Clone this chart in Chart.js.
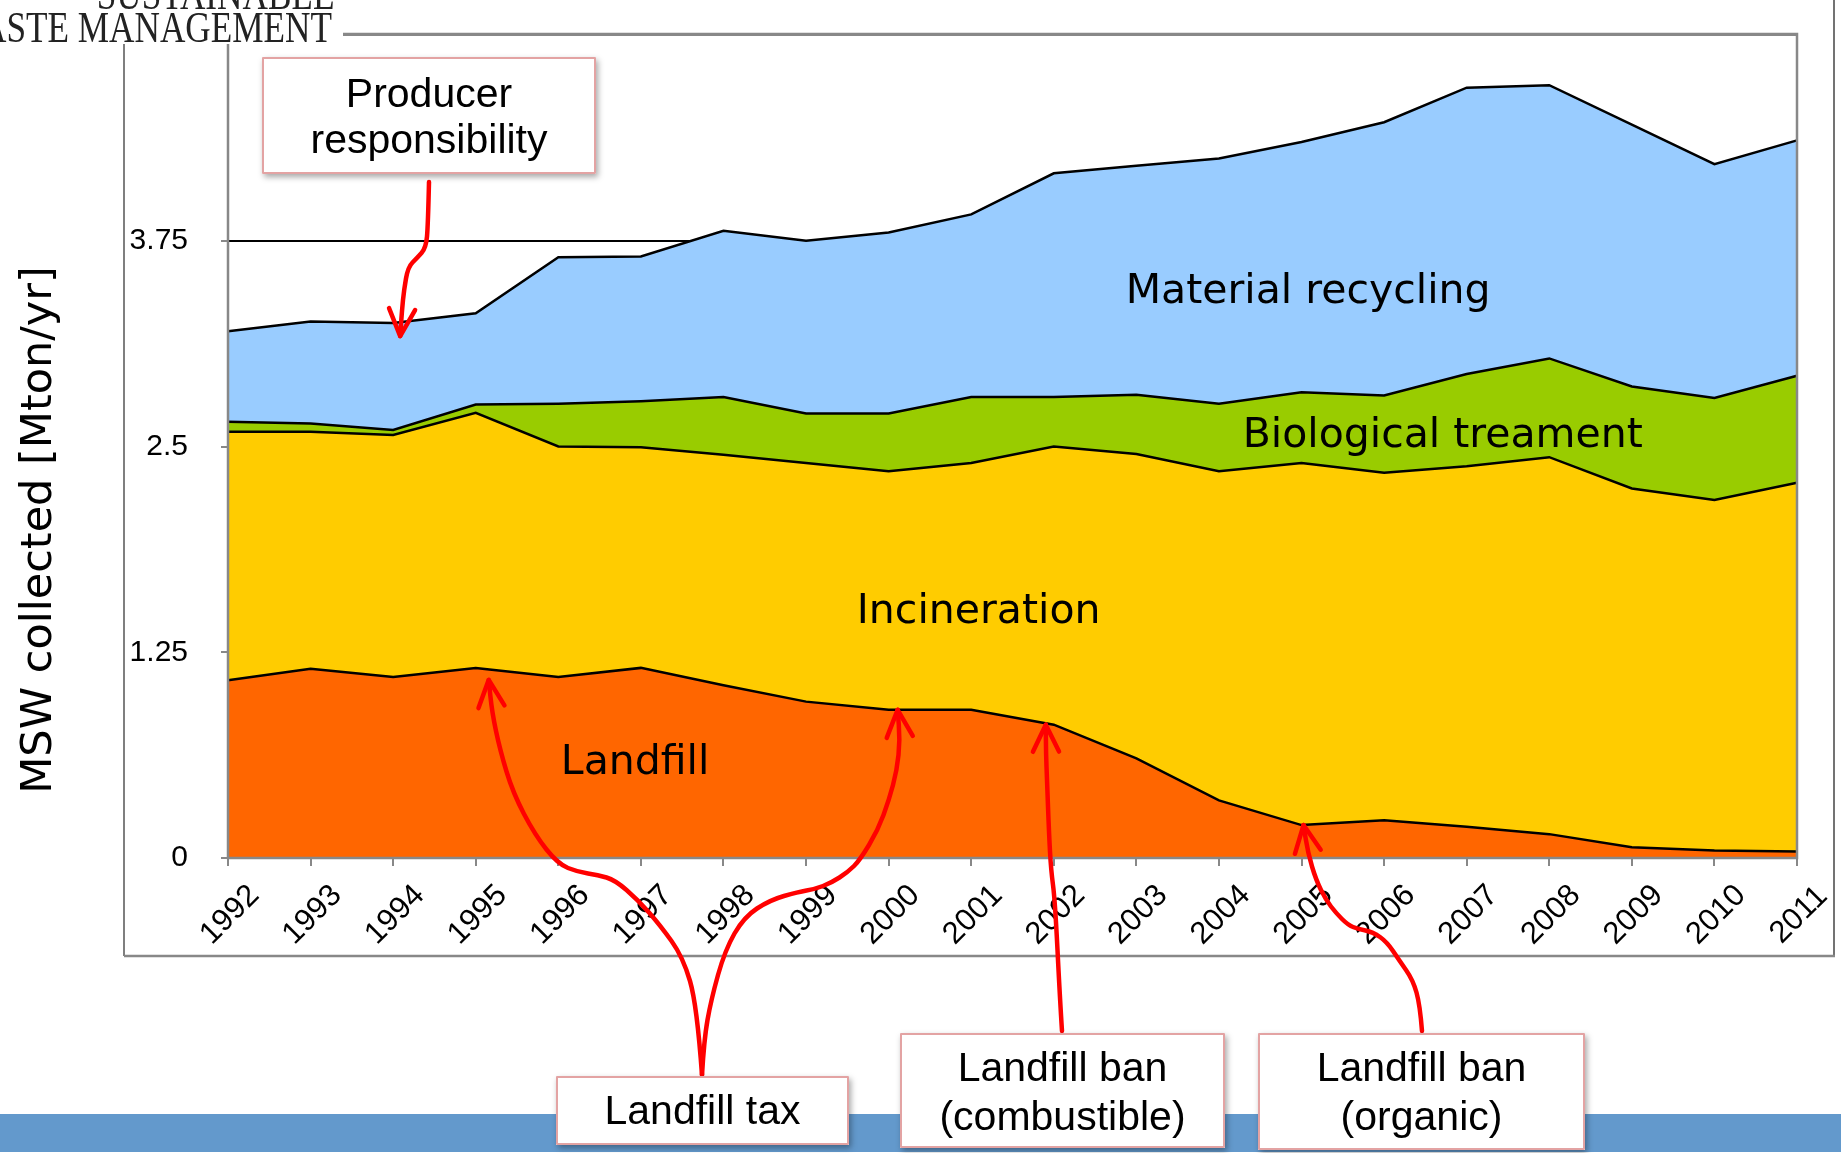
<!DOCTYPE html>
<html>
<head>
<meta charset="utf-8">
<script src="https://cdn.jsdelivr.net/npm/chart.js@4.4.0/dist/chart.umd.min.js"></script>
<style>
  html, body { margin: 0; padding: 0; background: #fff; }
  #wrap { width: 1841px; height: 1153px; position: relative; overflow: hidden; }
</style>
</head>
<body>
<div id="wrap"><canvas id="chart" width="1841" height="1153"></canvas></div>
<script>
// MSW collected per treatment route, Mton/yr
const years = ["1992", "1993", "1994", "1995", "1996", "1997", "1998", "1999", "2000", "2001",
               "2002", "2003", "2004", "2005", "2006", "2007", "2008", "2009", "2010", "2011"];
const landfill     = [1.08, 1.15, 1.10, 1.155, 1.10, 1.155, 1.05, 0.95, 0.90, 0.90, 0.81, 0.605, 0.35, 0.20, 0.23, 0.19, 0.145, 0.065, 0.045, 0.04];
const incineration = [1.51, 1.44, 1.47, 1.55, 1.40, 1.34, 1.40, 1.45, 1.45, 1.50, 1.69, 1.85, 2.00, 2.20, 2.11, 2.19, 2.29, 2.18, 2.13, 2.24];
const biological   = [0.06, 0.05, 0.03, 0.05, 0.26, 0.28, 0.35, 0.30, 0.35, 0.40, 0.30, 0.36, 0.41, 0.43, 0.47, 0.56, 0.60, 0.62, 0.62, 0.65];
const recycling    = [0.55, 0.62, 0.65, 0.555, 0.89, 0.88, 1.01, 1.05, 1.10, 1.11, 1.36, 1.39, 1.49, 1.52, 1.66, 1.74, 1.66, 1.59, 1.42, 1.43];
const seriesNames  = ["Landfill", "Incineration", "Biological treament", "Material recycling"];
const yTicks = [0, 1.25, 2.5, 3.75, 5];
const yTitle = "MSW collected [Mton/yr]";

const series = [landfill, incineration, biological, recycling];
const colors = ["#ff6600", "#ffcc00", "#99cc00", "#99ccff"];

// top of the stack for series s at year index i
function stackTop(s, i) {
    let t = 0;
    for (let k = 0; k <= s; k++) t += series[k][i];
    return t;
}

// where the in-area names sit (year index, value of the text baseline)
const nameSpots = [
    { i: 4.93, v: 0.51 },
    { i: 9.09, v: 1.43 },
    { i: 14.71, v: 2.50 },
    { i: 13.08, v: 3.37 },
];

const callouts = [
    { box: [262, 57, 334, 117], lines: ["Producer", "responsibility"], base: [107, 153] },
    { box: [556, 1076, 293, 69], lines: ["Landfill tax"], base: [1124] },
    { box: [900, 1033, 325, 115], lines: ["Landfill ban", "(combustible)"], base: [1081, 1130] },
    { box: [1258, 1033, 327, 117], lines: ["Landfill ban", "(organic)"], base: [1081, 1130] },
];

// arrows: path from the box, tip anchored on a stack top
const arrows = [
    { path: [[429, 182], [428, 225], [426, 248], [417, 258], [408, 267], [404, 290], [402, 310]], tip: { s: 3, i: 2, dx: 7, dy: 13 } },
    { path: [[702, 1075], [697, 1005], [683, 957], [660, 925], [638, 900], [615, 880], [598, 875], [578, 872], [558, 864], [535, 835], [513, 793], [500, 750], [492, 712]], tip: { s: 0, i: 3, dx: 13, dy: 12 } },
    { path: [[702, 1075], [704, 1040], [711, 1000], [725, 950], [744, 917], [770, 900], [798, 892], [815, 889], [831, 883], [848, 872], [860, 860], [878, 830], [889, 800], [897, 770], [900, 740]], tip: { s: 0, i: 8, dx: 9, dy: 0 } },
    { path: [[1062, 1031], [1060, 1000], [1055, 900], [1051, 870], [1049, 833], [1047, 780], [1046, 753]], tip: { s: 0, i: 10, dx: -8, dy: 0 } },
    { path: [[1422, 1031], [1420, 1005], [1413, 980], [1399, 960], [1387, 942], [1373, 932], [1358, 929], [1348, 925], [1336, 913], [1326, 900], [1316, 880], [1308, 853]], tip: { s: 0, i: 13, dx: 2, dy: 0 } },
];

function smoothLine(ctx, pts) {
    ctx.beginPath();
    ctx.moveTo(pts[0][0], pts[0][1]);
    for (let k = 1; k < pts.length - 1; k++) {
        const mx = (pts[k][0] + pts[k + 1][0]) / 2;
        const my = (pts[k][1] + pts[k + 1][1]) / 2;
        ctx.quadraticCurveTo(pts[k][0], pts[k][1], mx, my);
    }
    const last = pts[pts.length - 1];
    ctx.lineTo(last[0], last[1]);
    ctx.stroke();
}

function arrowHead(ctx, from, tip) {
    const a = Math.atan2(tip[1] - from[1], tip[0] - from[0]);
    const len = 30, sp = 0.45;
    ctx.beginPath();
    ctx.moveTo(tip[0] - len * Math.cos(a - sp), tip[1] - len * Math.sin(a - sp));
    ctx.lineTo(tip[0], tip[1]);
    ctx.lineTo(tip[0] - len * Math.cos(a + sp), tip[1] - len * Math.sin(a + sp));
    ctx.stroke();
}

const decor = {
    id: "decor",
    afterDatasetsDraw(chart) {
        const ctx = chart.ctx, a = chart.chartArea;
        ctx.save();
        ctx.strokeStyle = "#888";
        ctx.lineWidth = 2.5;
        ctx.strokeRect(a.left, a.top - 1, a.right - a.left, a.bottom - a.top + 1);
        ctx.restore();
    },
    afterDraw(chart) {
        const ctx = chart.ctx, x = chart.scales.x, y = chart.scales.y;
        ctx.save();

        // outer frame
        ctx.lineWidth = 1.5;
        ctx.strokeStyle = "#555";
        ctx.beginPath(); ctx.moveTo(124, 43); ctx.lineTo(124, 956); ctx.stroke();
        ctx.strokeStyle = "#444";
        ctx.beginPath(); ctx.moveTo(1834, 0); ctx.lineTo(1834, 956); ctx.stroke();
        ctx.strokeStyle = "#888";
        ctx.lineWidth = 2.5;
        ctx.beginPath(); ctx.moveTo(124, 956); ctx.lineTo(1835, 956); ctx.stroke();

        // rotated year labels
        ctx.fillStyle = "#000";
        ctx.font = "31px 'Liberation Sans', Arial, sans-serif";
        ctx.textAlign = "center";
        ctx.textBaseline = "middle";
        years.forEach((yr, i) => {
            ctx.save();
            ctx.translate(x.getPixelForValue(i) + 2, y.bottom + 57);
            ctx.rotate(-Math.PI / 4);
            ctx.fillText(yr, 0, 0);
            ctx.restore();
        });

        // y axis title
        ctx.save();
        ctx.translate(51, 530);
        ctx.rotate(-Math.PI / 2);
        ctx.font = "43px 'DejaVu Sans', Verdana, sans-serif";
        ctx.textBaseline = "alphabetic";
        ctx.fillText(yTitle, 0, 0);
        ctx.restore();

        // series names inside the areas
        ctx.font = "41px 'DejaVu Sans', Verdana, sans-serif";
        ctx.textBaseline = "alphabetic";
        seriesNames.forEach((name, s) => {
            const p = nameSpots[s];
            ctx.fillText(name, x.getPixelForValue(p.i), y.getPixelForValue(p.v));
        });

        // bottom band
        ctx.fillStyle = "#6399cc";
        ctx.fillRect(0, 1114, 1841, 38);

        // red arrows
        ctx.strokeStyle = "#ff0000";
        ctx.lineWidth = 4.5;
        ctx.lineCap = "round";
        ctx.lineJoin = "round";
        arrows.forEach(ar => {
            const t = ar.tip;
            const tip = [x.getPixelForValue(t.i) + t.dx, y.getPixelForValue(stackTop(t.s, t.i)) + t.dy];
            const pts = ar.path.concat([tip]);
            smoothLine(ctx, pts);
            arrowHead(ctx, pts[pts.length - 2], tip);
        });

        // callout boxes
        callouts.forEach(c => {
            const [bx, by, bw, bh] = c.box;
            ctx.save();
            ctx.shadowColor = "rgba(0,0,0,0.35)";
            ctx.shadowBlur = 6;
            ctx.shadowOffsetX = 2;
            ctx.shadowOffsetY = 3;
            ctx.fillStyle = "#fff";
            ctx.fillRect(bx, by, bw, bh);
            ctx.restore();
            ctx.strokeStyle = "#e3a3a3";
            ctx.lineWidth = 2;
            ctx.strokeRect(bx + 1, by + 1, bw - 2, bh - 2);
            ctx.fillStyle = "#000";
            ctx.font = "41px 'Liberation Sans', Arial, sans-serif";
            ctx.textAlign = "center";
            ctx.textBaseline = "alphabetic";
            c.lines.forEach((ln, k) => ctx.fillText(ln, bx + bw / 2, c.base[k]));
        });

        // logo corner (condensed serif)
        ctx.fillStyle = "#fff";
        ctx.fillRect(0, 0, 343, 44);
        ctx.fillStyle = "#222";
        ctx.font = "44px 'Liberation Serif', 'Times New Roman', serif";
        ctx.textAlign = "right";
        ctx.save();
        ctx.translate(332, 0);
        ctx.scale(0.8, 1);
        ctx.fillText("SUSTAINABLE", 3, 9);
        ctx.fillText("WASTE MANAGEMENT", 0, 42);
        ctx.restore();

        ctx.restore();
    }
};

new Chart(document.getElementById("chart"), {
    type: "line",
    data: {
        labels: years,
        datasets: series.map((vals, s) => {
            return {
                label: seriesNames[s],
                data: vals,
                backgroundColor: colors[s],
                borderColor: "#000",
                borderWidth: 2.5,
                pointRadius: 0,
                tension: 0,
                fill: s === 0 ? "origin" : "-1",
            };
        }),
    },
    options: {
        responsive: false,
        animation: false,
        layout: {
            padding: { top: 35, right: 44, bottom: 0, left: 0 },
        },
        plugins: {
            legend: { display: false },
            tooltip: { enabled: false },
        },
        scales: {
            x: {
                ticks: { display: false },
                grid: {
                    drawOnChartArea: false,
                    drawTicks: true,
                    tickLength: 8,
                    color: "#888",
                    lineWidth: 2,
                },
                border: { display: true, color: "#888", width: 2 },
                afterFit: (scale) => { scale.height = 295; },
            },
            y: {
                stacked: true,
                min: 0,
                max: 5,
                afterBuildTicks: (scale) => {
                    scale.ticks = yTicks.map((v) => ({ value: v }));
                },
                ticks: {
                    color: "#000",
                    padding: 33,
                    font: { family: "'Liberation Sans', Arial, sans-serif", size: 30 },
                    callback: (v) => String(v),
                },
                grid: {
                    color: (c) => (c.tick && c.tick.value === 5 ? "#888" : "#000"),
                    lineWidth: 2,
                    tickLength: 7,
                    tickColor: "#888",
                },
                border: { color: "#888", width: 2 },
                afterFit: (scale) => {
                    scale.width = 228;
                    scale.paddingTop = 0;
                    scale.paddingBottom = 0;
                },
            },
        },
    },
    plugins: [decor],
});
</script>
</body>
</html>
